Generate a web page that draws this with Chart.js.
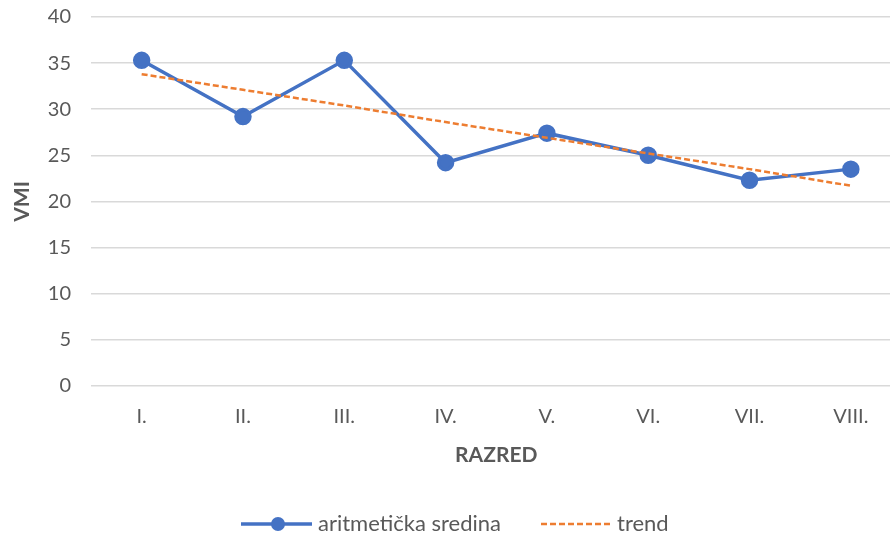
<!DOCTYPE html>
<html>
<head>
<meta charset="utf-8">
<script src="https://cdn.jsdelivr.net/npm/chart.js@4/dist/chart.umd.min.js"></script>
<style>
  html,body{margin:0;padding:0;background:#fff;overflow:hidden;}
  #wrap{position:relative;width:890px;height:537px;overflow:hidden;}
  #c{position:absolute;left:0;top:0;}
  #legend{position:absolute;left:0;top:512px;width:890px;height:24px;font-family:Lato,"Open Sans",sans-serif;font-size:22px;color:#595959;}
  .sym{position:absolute;top:2px;}
  .lbl{position:absolute;top:-1px;height:24px;line-height:24px;white-space:nowrap;}
</style>
</head>
<body>
<div id="wrap">
  <canvas id="c" width="912" height="537"></canvas>
  <div id="legend"></div>
</div>
<script>
const categories = ["I.", "II.", "III.", "IV.", "V.", "VI.", "VII.", "VIII."];
const meanValues = [35.3, 29.2, 35.3, 24.2, 27.4, 25.0, 22.3, 23.5];
const trendValues = [33.8, 32.1, 30.4, 28.6, 26.9, 25.2, 23.5, 21.7];
const seriesNames = ["aritmetička sredina", "trend"];
const yTicks = [0, 5, 10, 15, 20, 25, 30, 35, 40];
const xTitle = "RAZRED";
const yTitle = "VMI";

const FONT = 'Lato, "Open Sans", sans-serif';
const BLUE = '#4472C4', ORANGE = '#ED7D31', TXT = '#595959';

new Chart(document.getElementById('c'), {
  type: 'line',
  data: {
    labels: categories,
    datasets: [
      { label: seriesNames[0], data: meanValues, borderColor: BLUE, backgroundColor: BLUE,
        borderWidth: 3.5, pointRadius: 7, pointHoverRadius: 7, pointBackgroundColor: BLUE,
        pointBorderColor: BLUE, tension: 0, order: 2 },
      { label: seriesNames[1], data: trendValues, borderColor: ORANGE, backgroundColor: ORANGE,
        borderWidth: 2.5, borderDash: [6, 3], pointRadius: 0, tension: 0, order: 1 }
    ]
  },
  options: {
    responsive: false,
    animation: false,
    layout: { padding: { top: 17, right: 0, bottom: 69, left: 10 } },
    plugins: { legend: { display: false }, tooltip: { enabled: false } },
    scales: {
      x: {
        offset: true,
        afterFit: (s) => { s.paddingLeft = 0; s.paddingRight = 0; },
        grid: { display: false },
        border: { display: false },
        ticks: { color: TXT, font: { family: FONT, size: 20 }, padding: 11 },
        title: { display: true, text: xTitle, color: TXT, font: { family: FONT, size: 21, weight: 'bold' }, padding: { top: 3, bottom: 0 } }
      },
      y: {
        min: 0, max: 40,
        afterBuildTicks: (s) => { s.ticks = yTicks.map(v => ({ value: v })); },
        afterFit: (s) => { s.width = 81; s.paddingTop = 0; s.paddingBottom = 0; },
        grid: { color: '#D9D9D9', lineWidth: 1.5, drawTicks: false },
        border: { display: false },
        ticks: { color: TXT, font: { family: FONT, size: 20 }, padding: 20 },
        title: { display: true, text: yTitle, color: TXT, font: { family: FONT, size: 21, weight: 'bold' }, padding: { top: 0, bottom: 0 } }
      }
    }
  }
});

// HTML legend
const legend = document.getElementById('legend');
function addSymbol(left, drawFn) {
  const cv = document.createElement('canvas');
  cv.width = 72; cv.height = 20;
  cv.className = 'sym';
  cv.style.left = left + 'px';
  drawFn(cv.getContext('2d'));
  legend.appendChild(cv);
}
function addLabel(left, text) {
  const s = document.createElement('span');
  s.className = 'lbl';
  s.style.left = left + 'px';
  s.textContent = text;
  legend.appendChild(s);
}
addSymbol(241, (g) => {
  g.strokeStyle = BLUE; g.lineWidth = 3.5;
  g.beginPath(); g.moveTo(0, 10); g.lineTo(71, 10); g.stroke();
  g.fillStyle = BLUE; g.beginPath(); g.arc(37, 10, 7, 0, Math.PI * 2); g.fill();
});
addLabel(318, seriesNames[0]);
addSymbol(541, (g) => {
  g.strokeStyle = ORANGE; g.lineWidth = 2.5; g.setLineDash([6, 3]);
  g.beginPath(); g.moveTo(0, 10); g.lineTo(70, 10); g.stroke();
});
addLabel(617, seriesNames[1]);
</script>
</body>
</html>
